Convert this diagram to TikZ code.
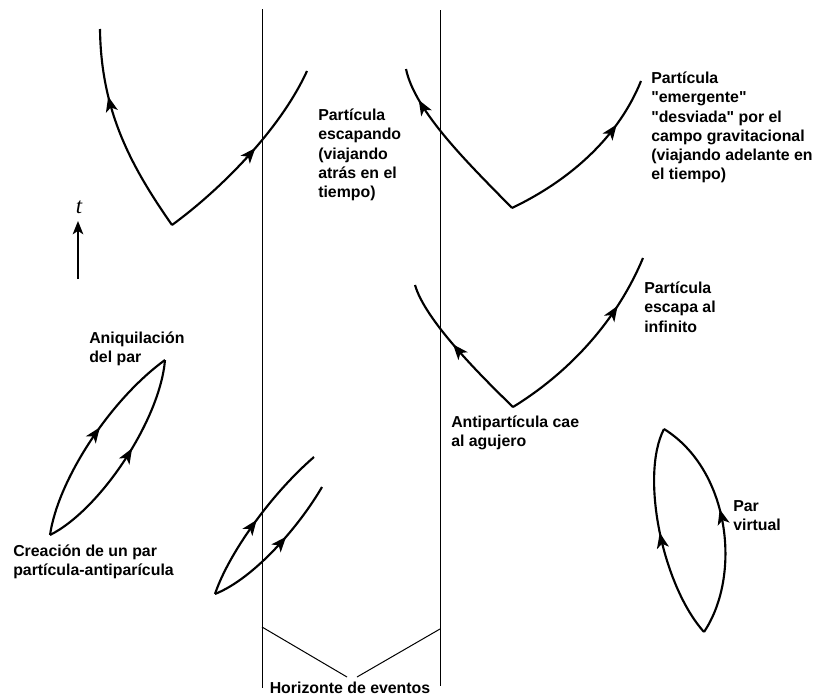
\documentclass[tikz,border=0pt]{standalone}
\usepackage{fontspec}
\newfontfamily\lsans{Liberation Sans}
\newfontfamily\lserif{Liberation Serif}
\usetikzlibrary{arrows.meta,decorations.markings}
\tikzset{
  wl/.style={line width=1.6pt},
  hz/.style={line width=0.75pt},
  midarr/.style={postaction={decorate},decoration={markings,mark=at position #1 with {\arrow{Stealth[length=11.5pt,width=9pt,inset=3pt]}}}},
  lbl/.style={anchor=north west,inner sep=0pt,align=left,font=\lsans\fontsize{11.9}{14.3}\selectfont\bfseries},
}
\begin{document}
\begin{tikzpicture}[x=0.75pt,y=-0.75pt]
\useasboundingbox (0,0) rectangle (815,696);
% horizons
\coordinate (hlt) at (262,9);
\coordinate (hlb) at (262,688);
\coordinate (hrt) at (440,10);
\coordinate (hrb) at (440,686);
\draw[hz] (hlt) -- (hlb);
\draw[hz] (hrt) -- (hrb);
\node[font=\lsans\fontsize{11.9}{14.3}\selectfont\bfseries,inner sep=0pt] (hor) at (350,688) {Horizonte de eventos};
\coordinate (bl) at (262,627);
\coordinate (br) at (440,629);
\coordinate (bm1) at (347,677);
\coordinate (bm2) at (357,677);
\draw[hz] (bl) -- (bm1);
\draw[hz] (bm2) -- (br);
% time axis
\coordinate (t0) at (78,279);
\coordinate (t1) at (78,221);
\draw[line width=1.1pt,-{Stealth[length=10pt,width=8pt,inset=2.6pt]}] (t0) -- (t1);
\node[inner sep=0pt,font=\lserif\itshape\fontsize{17}{17}\selectfont] (tl) at (79,207) {t};
% top-left V
\coordinate (v1) at (172,225);
\coordinate (v1a) at (100,29);
\coordinate (v1b) at (307,71);
\draw[wl,midarr=0.68] (v1) .. controls (130,165) and (101,110) .. (v1a);
\draw[wl,midarr=0.55] (v1) .. controls (220,190) and (280,130) .. (v1b);
% top-right V
\coordinate (v2) at (512,208);
\coordinate (v2a) at (406,69);
\coordinate (v2b) at (641,81);
\draw[wl,midarr=0.81] (v2) .. controls (470,165) and (415,112) .. (v2a);
\draw[wl,midarr=0.73] (v2) .. controls (560,185) and (615,145) .. (v2b);
% middle-right V
\coordinate (v3) at (513,407);
\coordinate (v3a) at (415,285);
\coordinate (v3b) at (643,258);
\draw[wl,midarr=0.55] (v3) .. controls (480,375) and (425,320) .. (v3a);
\draw[wl,midarr=0.73] (v3) .. controls (565,375) and (615,325) .. (v3b);
% left lens
\coordinate (l1) at (50,535);
\coordinate (l2) at (165,360);
\draw[wl,midarr=0.56] (l1) .. controls (58,480) and (110,400) .. (l2);
\draw[wl,midarr=0.56] (l1) .. controls (100,510) and (160,420) .. (l2);
% bottom-middle lens
\coordinate (m1) at (215,594);
\coordinate (m2) at (314,457);
\coordinate (m3) at (322,487);
\draw[wl,midarr=0.5] (m1) .. controls (228,555) and (270,495) .. (m2);
\draw[wl,midarr=0.6] (m1) .. controls (255,578) and (300,525) .. (m3);
% bottom-right lens
\coordinate (r1) at (704,632);
\coordinate (r2) at (664,429);
\draw[wl,midarr=0.51] (r1) .. controls (662,585) and (640,475) .. (r2);
\draw[wl,midarr=0.56] (r1) .. controls (742,575) and (730,470) .. (r2);
% labels
\node[lbl] (la) at (318,109) {Partícula\\escapando\\(viajando\\atrás en el\\tiempo)};
\node[lbl] (lb) at (651,72) {Partícula\\"emergente"\\"desviada" por el\\campo gravitacional\\(viajando adelante en\\el tiempo)};
\node[lbl] (lc) at (644,282) {Partícula\\escapa al\\infinito};
\node[lbl] (ld) at (451,416) {Antipartícula cae\\al agujero};
\node[lbl] (le) at (733,500) {Par\\virtual};
\node[lbl] (lf) at (89,332) {Aniquilación\\del par};
\node[lbl] (lg) at (13,545) {Creación de un par\\partícula-antiparícula};
\end{tikzpicture}
\end{document}
